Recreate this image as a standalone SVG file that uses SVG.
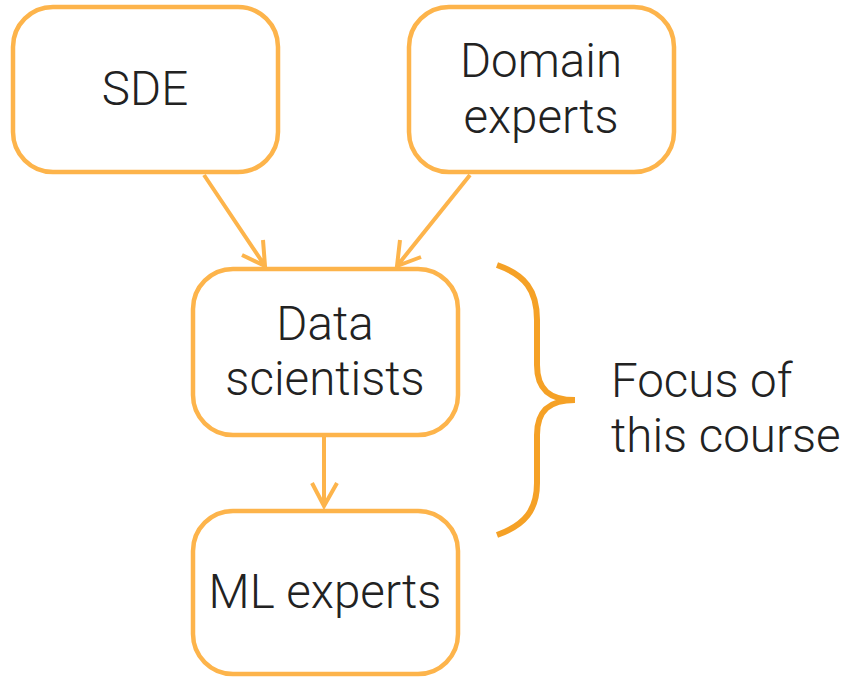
<svg xmlns="http://www.w3.org/2000/svg" width="846" height="678" viewBox="0 0 846 678">
<style>
.box{fill:#fff;stroke:#FDB44B;stroke-width:4.5}
.t{font-family:Roboto,"Liberation Sans",sans-serif;font-weight:300;font-size:47.5px;fill:#222;text-anchor:middle}
.f{font-family:Roboto,"Liberation Sans",sans-serif;font-weight:300;font-size:47.5px;fill:#222}
.c{fill:none;stroke:#FDB44B;stroke-width:4;stroke-linecap:butt}
</style>
<rect width="846" height="678" fill="#fff"/>
<g id="sde"><rect class="box" x="13" y="7" width="265" height="165" rx="40"/><text class="t" x="145" y="105">SDE</text></g>
<g id="domain"><rect class="box" x="409" y="7" width="265" height="165" rx="40"/><text class="t" x="541" y="77">Domain</text><text class="t" x="541" y="133">experts</text></g>
<g id="data"><rect class="box" x="193" y="269" width="265" height="166" rx="40"/><text class="t" x="325" y="340">Data</text><text class="t" x="325" y="395">scientists</text></g>
<g id="ml"><rect class="box" x="193" y="511" width="265" height="163" rx="40"/><text class="t" x="325" y="608">ML experts</text></g>
<g id="connectors">
<path class="c" d="M204 175 L265 266 M242 255 L265 266 L263 240"/>
<path class="c" d="M470 175 L397 266 M400 240 L397 266 L421 257"/>
<path class="c" d="M324 436 L324 506 M312 483 L324 506 L337 483"/>
</g>
<g id="brace">
<path d="M497 265 C525 275 537 290 537 320 L537 365 C537 390 550 400 575 400 C550 400 537 410 537 435 L537 483 C537 510 525 525 497 535" fill="none" stroke="#F5A126" stroke-width="6"/>
<text class="f" x="611" y="397">Focus of</text>
<text class="f" x="611" y="452">this course</text>
</g>
</svg>
